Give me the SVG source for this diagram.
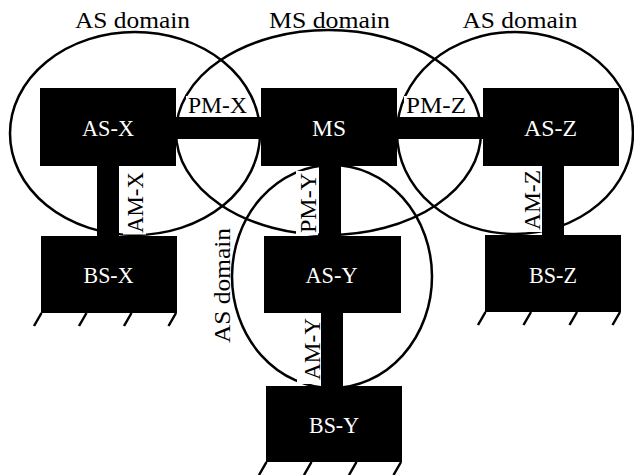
<svg xmlns="http://www.w3.org/2000/svg" width="634" height="475" viewBox="0 0 634 475">
<style>
.dom{fill:none;stroke:#000;stroke-width:2.5}
.box{fill:#000}
.bar{fill:#000}
.t{font-family:"Liberation Serif","Times New Roman",serif;font-size:23px;text-anchor:middle}
.wt{fill:#fff}
.bk{fill:#000}
.bg{fill:#fff}
.tick{stroke:#000;stroke-width:2.5;fill:none}
</style>
<rect width="634" height="475" fill="#fff"/>
<g id="domains">
<ellipse class="dom" cx="135" cy="133.5" rx="125" ry="101.5"/>
<ellipse class="dom" cx="328.5" cy="132.5" rx="152.5" ry="102.5"/>
<ellipse class="dom" cx="515" cy="133" rx="118" ry="101"/>
<ellipse class="dom" cx="332" cy="276.5" rx="100" ry="111.5"/>
<text class="t bk" x="132.5" y="28" textLength="115" lengthAdjust="spacingAndGlyphs">AS domain</text>
<text class="t bk" x="329.5" y="28" textLength="121" lengthAdjust="spacingAndGlyphs">MS domain</text>
<text class="t bk" x="520" y="28" textLength="115" lengthAdjust="spacingAndGlyphs">AS domain</text>
<g transform="translate(230,285.5) rotate(-90)"><text class="t bk" x="0" y="0" textLength="115" lengthAdjust="spacingAndGlyphs">AS domain</text></g>
</g>
<g id="connectors">
<rect class="bar" x="176" y="117" width="85" height="22"/>
<rect class="bar" x="397" y="117" width="86" height="22"/>
<rect class="bar" x="97" y="166" width="22" height="70"/>
<rect class="bar" x="319" y="166" width="22" height="70"/>
<rect class="bar" x="542" y="166" width="22" height="69"/>
<rect class="bar" x="321" y="313" width="22" height="73"/>
<rect class="bg" x="186" y="96" width="63" height="20"/>
<text class="t bk" x="217.5" y="113" textLength="59" lengthAdjust="spacingAndGlyphs">PM-X</text>
<rect class="bg" x="404" y="96" width="64" height="20"/>
<text class="t bk" x="436" y="113" textLength="60" lengthAdjust="spacingAndGlyphs">PM-Z</text>
<g transform="translate(143,202.5) rotate(-90)"><rect class="bg" x="-32" y="-20" width="64" height="23"/><text class="t bk" x="0" y="0" textLength="61" lengthAdjust="spacingAndGlyphs">AM-X</text></g>
<g transform="translate(316,203) rotate(-90)"><rect class="bg" x="-32" y="-20" width="64" height="22"/><text class="t bk" x="0" y="0" textLength="60" lengthAdjust="spacingAndGlyphs">PM-Y</text></g>
<g transform="translate(540,200) rotate(-90)"><rect class="bg" x="-32" y="-20" width="64" height="22"/><text class="t bk" x="0" y="0" textLength="60" lengthAdjust="spacingAndGlyphs">AM-Z</text></g>
<g transform="translate(320,349) rotate(-90)"><rect class="bg" x="-35" y="-23" width="70" height="24"/><text class="t bk" x="0" y="0" textLength="62" lengthAdjust="spacingAndGlyphs">AM-Y</text></g>
</g>
<g id="node-AS-X">
<rect class="box" x="40" y="88" width="136" height="78"/>
<text class="t wt" x="108" y="136" textLength="52" lengthAdjust="spacingAndGlyphs">AS-X</text>
</g>
<g id="node-MS">
<rect class="box" x="261" y="88" width="136" height="78"/>
<text class="t wt" x="329" y="136" textLength="34" lengthAdjust="spacingAndGlyphs">MS</text>
</g>
<g id="node-AS-Z">
<rect class="box" x="483" y="88" width="136" height="78"/>
<text class="t wt" x="550.5" y="136" textLength="53" lengthAdjust="spacingAndGlyphs">AS-Z</text>
</g>
<g id="node-BS-X">
<rect class="box" x="41" y="236" width="136" height="77"/>
<text class="t wt" x="108.5" y="283" textLength="50" lengthAdjust="spacingAndGlyphs">BS-X</text>
<path class="tick" d="M41.5 313l-7.5 13M86.5 313l-7.5 13M131.5 313l-7.5 13M176 313l-7.5 13"/>
</g>
<g id="node-AS-Y">
<rect class="box" x="264" y="236" width="137" height="77"/>
<text class="t wt" x="331.5" y="283" textLength="52" lengthAdjust="spacingAndGlyphs">AS-Y</text>
</g>
<g id="node-BS-Z">
<rect class="box" x="485" y="235" width="136" height="77"/>
<text class="t wt" x="553" y="283" textLength="48" lengthAdjust="spacingAndGlyphs">BS-Z</text>
<path class="tick" d="M485.5 312l-7.5 13M531 312l-7.5 13M577 312l-7.5 13M620 312l-7.5 13"/>
</g>
<g id="node-BS-Y">
<rect class="box" x="266" y="386" width="136" height="76"/>
<text class="t wt" x="334" y="433" textLength="50" lengthAdjust="spacingAndGlyphs">BS-Y</text>
<path class="tick" d="M266.5 462l-7.5 13M311.5 462l-7.5 13M356.5 462l-7.5 13M401 462l-7.5 13"/>
</g>
</svg>
